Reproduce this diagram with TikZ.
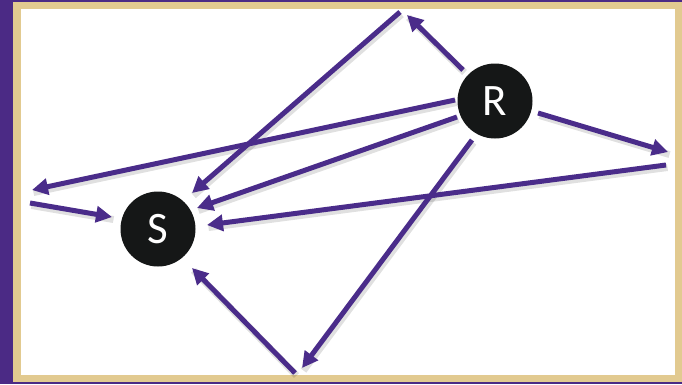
\documentclass[tikz,border=0pt]{standalone}
\usepackage{fontspec}
\setmainfont{Carlito}
\usetikzlibrary{arrows.meta,calc}
\definecolor{stripP}{HTML}{4B2A85}
\definecolor{frameB}{HTML}{E2CA90}
\definecolor{arrP}{HTML}{4A2C8A}
\definecolor{nodeK}{HTML}{151717}
\tikzset{
  ball/.style={circle,fill=nodeK,minimum size=75pt,inner sep=0pt,text=white,font=\fontsize{45}{45}\selectfont},
  conn/.style={draw=arrP,line width=5pt,-{Triangle[length=16pt,width=16pt]}},
  plain/.style={draw=arrP,line width=5pt},
  shad/.style={draw=black,opacity=0.12,line width=7pt,transform canvas={shift={(1.5pt,-2.5pt)}}},
}
\begin{document}
\begin{tikzpicture}[x=1pt,y=-1pt]
\useasboundingbox (0,0) rectangle (682,384);
\fill[stripP] (0,0) rectangle (682,384);
\fill[frameB] (13,2) rectangle (682,381.5);
\fill[white] (21,9) rectangle (675,375);
% nodes
\node[ball] (R) at (495,101) {R};
\node[ball] (S) at (158,229) {S};
% free ends
\coordinate (r1) at ($(R)+(-32,-31)$);
\coordinate (r3) at ($(R)+(-40,-1)$);
\coordinate (r5) at ($(R)+(-38,16)$);
\coordinate (r6) at ($(R)+(43,12)$);
\coordinate (r8) at ($(R)+(-23,39)$);
\coordinate (top1) at (407,15);
\coordinate (top2) at (400,12);
\coordinate (left1) at (32,190);
\coordinate (left2) at (30,203);
\coordinate (right1) at (668,152);
\coordinate (right2) at (666,165);
\coordinate (bot1) at (302,368);
\coordinate (bot2) at (295,373);
\coordinate (s2) at ($(S)+(34,-36)$);
\coordinate (s4) at ($(S)+(-46,-12)$);
\coordinate (s5) at ($(S)+(39,-21)$);
\coordinate (s7) at ($(S)+(49,-4)$);
\coordinate (s9) at ($(S)+(34,39)$);
% shadows
\foreach \a/\b in {r1/top1,top2/s2,r3/left1,left2/s4,r5/s5,r6/right1,right2/s7,r8/bot1,bot2/s9}
  \draw[shad] (\a) -- (\b);
% connectors
\draw[conn] (r1) -- (top1);
\draw[conn] (top2) -- (s2);
\draw[conn] (r3) -- (left1);
\draw[conn] (left2) -- (s4);
\draw[conn] (r5) -- (s5);
\draw[conn] (r6) -- (right1);
\draw[conn] (right2) -- (s7);
\draw[conn] (r8) -- (bot1);
\draw[conn] (bot2) -- (s9);
\end{tikzpicture}
\end{document}
